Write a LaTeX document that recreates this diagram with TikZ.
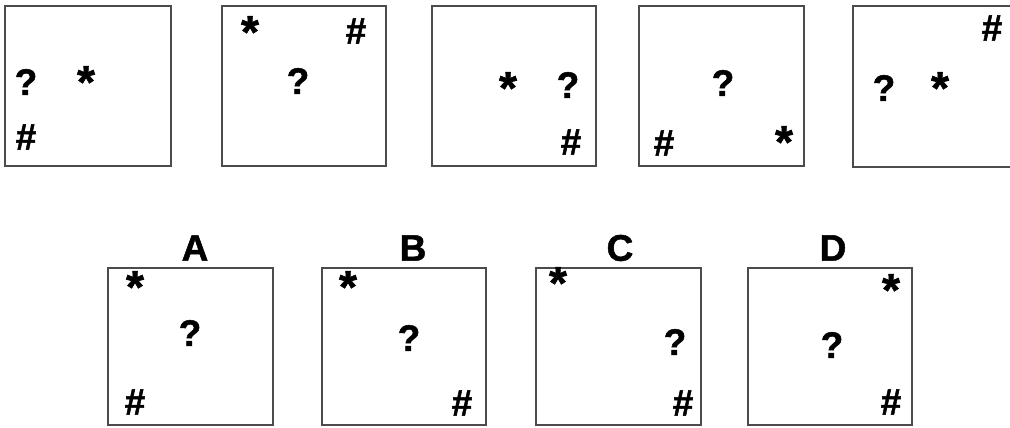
\documentclass[tikz,border=0pt]{standalone}
\usepackage{fontspec}
\setmainfont{Liberation Sans}
\newfontfamily\symfont{Liberation Sans Bold}[FakeBold=1.3]
\begin{document}
\begin{tikzpicture}[x=1pt,y=-1pt,
  panel/.style={draw=black!70,line width=1.8pt},
  sym/.style={inner sep=0pt,font=\fontsize{37}{37}\symfont},
  star/.style={inner sep=0pt,font=\fontsize{46}{46}\symfont},
  lbl/.style={inner sep=0pt,font=\fontsize{37}{37}\symfont}]
\useasboundingbox (0,0) rectangle (1010,428);
\clip (0,0) rectangle (1010,428);
% top row
\draw[panel] (5,6) rectangle (171,166);
\node[sym] (q1) at (26,82) {?};
\node[star] (s1) at (86,82) {*};
\node[sym] (h1) at (26,137) {\#};
\draw[panel] (222,6) rectangle (386,166);
\node[star] (s2) at (250,32) {*};
\node[sym] (h2) at (356,31) {\#};
\node[sym] (q2) at (298,81) {?};
\draw[panel] (432,6) rectangle (596,166);
\node[star] (s3) at (508,88) {*};
\node[sym] (q3) at (568,85) {?};
\node[sym] (h3) at (571,142) {\#};
\draw[panel] (639,6) rectangle (804,166);
\node[sym] (q4) at (723,83) {?};
\node[sym] (h4) at (664,143) {\#};
\node[star] (s4) at (784,142) {*};
\draw[panel] (853,6) rectangle (1025,167);
\node[sym] (h5) at (992,28) {\#};
\node[sym] (q5) at (884,88) {?};
\node[star] (s5) at (940,88) {*};
% options
\node[lbl] (la) at (195,248) {A};
\draw[panel] (108,268) rectangle (273,425);
\node[star] (sa) at (135,287) {*};
\node[sym] (qa) at (190,333) {?};
\node[sym] (ha) at (135,402) {\#};
\node[lbl] (lb) at (413,248) {B};
\draw[panel] (322,268) rectangle (486,425);
\node[star] (sb) at (348,287) {*};
\node[sym] (qb) at (409,338) {?};
\node[sym] (hb) at (462,403) {\#};
\node[lbl] (lc) at (620,248) {C};
\draw[panel] (536,268) rectangle (701,425);
\node[star] (sc) at (558,283) {*};
\node[sym] (qc) at (675,342) {?};
\node[sym] (hc) at (683,403) {\#};
\node[lbl] (ld) at (833,248) {D};
\draw[panel] (748,268) rectangle (912,425);
\node[star] (sd) at (891,290) {*};
\node[sym] (qd) at (832,345) {?};
\node[sym] (hd) at (891,402) {\#};
\end{tikzpicture}
\end{document}
